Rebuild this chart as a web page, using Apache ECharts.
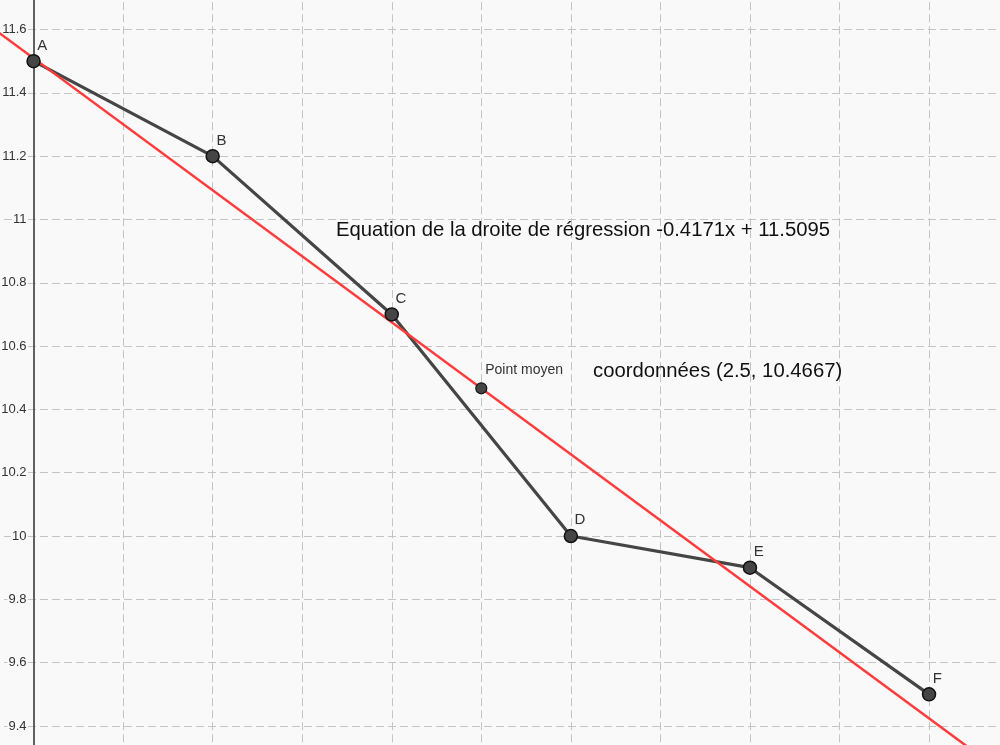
<!DOCTYPE html>
<html>
<head>
<meta charset="utf-8">
<script src="https://cdn.jsdelivr.net/npm/echarts@6/dist/echarts.min.js"></script>
<style>
  html, body { margin: 0; padding: 0; background: #f9f9f9; }
  #chart { width: 1000px; height: 745px; }
</style>
</head>
<body>
<div id="chart"></div>
<script>
// points du nuage
const pointNames = ["A", "B", "C", "D", "E", "F"]
const xValues = [0, 1, 2, 3, 4, 5]
const yValues = [11.5, 11.2, 10.7, 10.0, 9.9, 9.5]

// point moyen et droite de régression (extrémités)
const meanPoint = [2.5, 10.4667]
const regressionEnds = [[-0.5, 11.718], [5.5, 9.2155]]

const equationText = "Equation de la droite de régression -0.4171x + 11.5095"
const meanText = "coordonnées (2.5, 10.4667)"

const font = "Liberation Sans, Arial, sans-serif"
const gridLine = { show: true, lineStyle: { color: "#c4c4c4", width: 1, type: [8, 4] } }

const chart = echarts.init(document.getElementById("chart"))

const option = {
  backgroundColor: "#f9f9f9",
  animation: false,
  grid: {
    left: -56,
    right: -18.6,
    top: -33.8,
    bottom: -44.3,
    containLabel: false,
    outerBoundsMode: "none",
  },
  xAxis: {
    type: "value",
    min: -0.5,
    max: 5.5,
    interval: 0.5,
    axisLine: { show: false },
    axisTick: { show: false },
    axisLabel: { show: false },
    splitLine: gridLine,
  },
  yAxis: {
    type: "value",
    min: 9.2,
    max: 11.8,
    interval: 0.2,
    // l'axe est ramené sur x = 0
    offset: -89.5,
    axisLine: { show: true, onZero: false, lineStyle: { color: "#606060", width: 2 } },
    axisTick: { show: false },
    axisLabel: {
      color: "#333",
      fontSize: 13,
      fontFamily: font,
      margin: 6,
      backgroundColor: "#f9f9f9",
      padding: [0, 1],
    },
    splitLine: gridLine,
  },
  graphic: [
    {
      type: "text",
      z: 100,
      x: 336,
      y: 230,
      style: { text: equationText, font: "20.3px " + font, fill: "#111", verticalAlign: "middle" },
    },
    {
      type: "text",
      z: 100,
      x: 593,
      y: 371,
      style: { text: meanText, font: "20.3px " + font, fill: "#111", verticalAlign: "middle" },
    },
  ],
  series: [
    {
      name: "ligne",
      type: "line",
      data: xValues.map((x, i) => [x, yValues[i]]),
      symbol: "none",
      lineStyle: { color: "#454545", width: 3.2 },
      z: 2,
    },
    {
      name: "regression",
      type: "line",
      data: regressionEnds,
      symbol: "none",
      lineStyle: { color: "#ff3c3c", width: 2.5 },
      z: 3,
    },
    {
      name: "points",
      type: "scatter",
      data: xValues.map((x, i) => ({ name: pointNames[i], value: [x, yValues[i]] })),
      symbolSize: 13,
      itemStyle: { color: "#454545", borderColor: "#111", borderWidth: 1.5, opacity: 1 },
      label: {
        show: true,
        formatter: "{b}",
        position: [11, -16],
        color: "#333",
        fontSize: 15,
        fontFamily: font,
      },
      z: 4,
    },
    {
      name: "moyen",
      type: "scatter",
      data: [{ name: "Point moyen", value: meanPoint }],
      symbolSize: 11,
      itemStyle: { color: "#454545", borderColor: "#111", borderWidth: 1.2, opacity: 1 },
      label: {
        show: true,
        formatter: "{b}",
        position: [10, -19],
        color: "#333",
        fontSize: 14,
        fontFamily: font,
      },
      z: 4,
    },
  ],
}

chart.setOption(option)
</script>
</body>
</html>
